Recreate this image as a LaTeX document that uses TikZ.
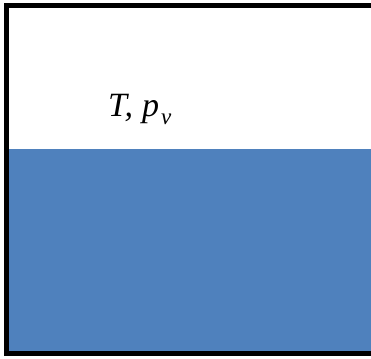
\documentclass[tikz,border=0pt]{standalone}
\usepackage{fontspec}
\setmainfont{Liberation Serif}
\usetikzlibrary{positioning}
\definecolor{water}{RGB}{79,129,189}
\tikzset{
  wall/.style={draw=black, line width=5pt, miter limit=10},
  liquid/.style={fill=water, draw=none},
  statelabel/.style={anchor=base west, inner sep=0pt,
    font=\fontsize{34}{38}\selectfont\itshape},
}

\begin{document}
\begin{tikzpicture}[x=1pt, y=1pt]
  \useasboundingbox (0,0) rectangle (371,358);

  % Liquid
  \fill[liquid] (6.5,4.5) rectangle (371,209);

  % Vessel walls (open on the right)
  \draw[wall] (371,352.5) -- (6.5,352.5) -- (6.5,4.5) -- (371,4.5);

  % Vapour state
  \node[statelabel] (state) at (108,241)
    {T,\hspace{9pt}p\hspace{2pt}\raisebox{-8pt}{\fontsize{23}{26}\selectfont v}};
\end{tikzpicture}
\end{document}
